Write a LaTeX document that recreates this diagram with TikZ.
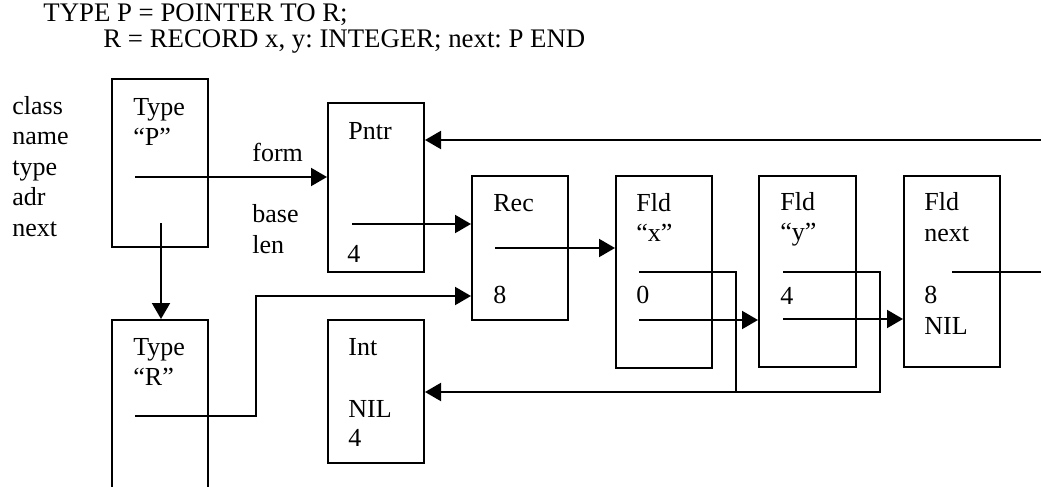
\documentclass[tikz,border=0pt]{standalone}
\usepackage{fontspec}
\setmainfont{Liberation Serif}
\usetikzlibrary{arrows.meta}
\begin{document}
\frenchspacing
\begin{tikzpicture}[x=0.5pt,y=-0.5pt,
  box/.style={draw, line width=1pt, inner sep=0pt, rectangle},
  arr/.style={line width=1pt, -{Triangle[length=8pt,width=9pt]}},
  ln/.style={line width=1pt},
  t/.style={anchor=base west, inner sep=0pt, font=\fontsize{13}{15}\selectfont},
  hd/.style={anchor=base west, inner sep=0pt, font=\fontsize{13.4}{15}\selectfont}]
\useasboundingbox (0,0) rectangle (1041,487);
\clip (0,0) rectangle (1041,487);
% header
\node[hd] (h1) at (43,21.5) {TYPE P = POINTER TO R;};
\node[hd] (h2) at (103,47.5) {R = RECORD x, y: INTEGER; next: P END};
% left labels
\node[t] (lclass) at (12,114) {class};
\node[t] (lname) at (12,144.5) {name};
\node[t] (ltype) at (12,175) {type};
\node[t] (ladr) at (12,205.5) {adr};
\node[t] (lnext) at (12,236) {next};
% boxes
\node[box, minimum width=48pt, minimum height=84pt] (typeP) at (160,163) {};
\node[box, minimum width=48pt, minimum height=84.5pt] (pntr) at (376,187.5) {};
\node[box, minimum width=48pt, minimum height=90pt] (typeR) at (160,410) {};
\node[box, minimum width=48pt, minimum height=71.5pt] (int) at (376,391.5) {};
\node[box, minimum width=48pt, minimum height=72pt] (rec) at (520,248) {};
\node[box, minimum width=48pt, minimum height=96pt] (fldx) at (664,272) {};
\node[box, minimum width=48.5pt, minimum height=95.5pt] (fldy) at (807.5,271.5) {};
\node[box, minimum width=48pt, minimum height=95.5pt] (fldn) at (952,271.5) {};
% box texts
\node[t] (tP1) at (133,115) {Type};
\node[t] (tP2) at (133,145) {“P”};
\node[t] (form) at (252,162) {form};
\node[t] (base) at (252,222) {base};
\node[t] (len) at (252,253) {len};
\node[t] (pn1) at (348,140) {Pntr};
\node[t] (pn2) at (347,262) {4};
\node[t] (tR1) at (133,355) {Type};
\node[t] (tR2) at (133,385) {“R”};
\node[t] (in1) at (348,355) {Int};
\node[t] (in2) at (348,417) {NIL};
\node[t] (in3) at (348,446) {4};
\node[t] (rc1) at (493,211) {Rec};
\node[t] (rc2) at (493,303) {8};
\node[t] (fx1) at (636,211) {Fld};
\node[t] (fx2) at (636,242) {“x”};
\node[t] (fx3) at (636,303) {0};
\node[t] (fy1) at (780,210) {Fld};
\node[t] (fy2) at (780,240) {“y”};
\node[t] (fy3) at (780,304) {4};
\node[t] (fn1) at (924,210) {Fld};
\node[t] (fn2) at (924,241) {next};
\node[t] (fn3) at (924,303) {8};
\node[t] (fn4) at (924,334) {NIL};
% connector points
\coordinate (pForm) at (135,177);
\coordinate (pNext) at (161,223);
\coordinate (pBase) at (352,224);
\coordinate (rType) at (135,416);
\coordinate (rBend) at (256,296);
\coordinate (recFld) at (495,248);
\coordinate (xType) at (639,272);
\coordinate (xBend) at (736,392);
\coordinate (xNext) at (639,320);
\coordinate (yType) at (783,272);
\coordinate (yBend) at (880,392);
\coordinate (yNext) at (783,319);
\coordinate (nType) at (952,272);
\coordinate (nOut) at (1046,272);
\coordinate (pIn) at (1046,140);
% connectors
\draw[arr] (pForm) -- (pForm -| pntr.west);
\draw[arr] (pNext) -- (pNext |- typeR.north);
\draw[arr] (pBase) -- (pBase -| rec.west);
\draw[arr] (rType) -| (rBend) -- (rBend -| rec.west);
\draw[arr] (recFld) -- (recFld -| fldx.west);
\draw[arr] (xType) -| (xBend) -- (xBend -| int.east);
\draw[arr] (xNext) -- (xNext -| fldy.west);
\draw[ln] (yType) -| (yBend) -- (xBend);
\draw[arr] (yNext) -- (yNext -| fldn.west);
\draw[ln] (nType) -- (nOut);
\draw[arr] (pIn) -- (pIn -| pntr.east);
\end{tikzpicture}
\end{document}
